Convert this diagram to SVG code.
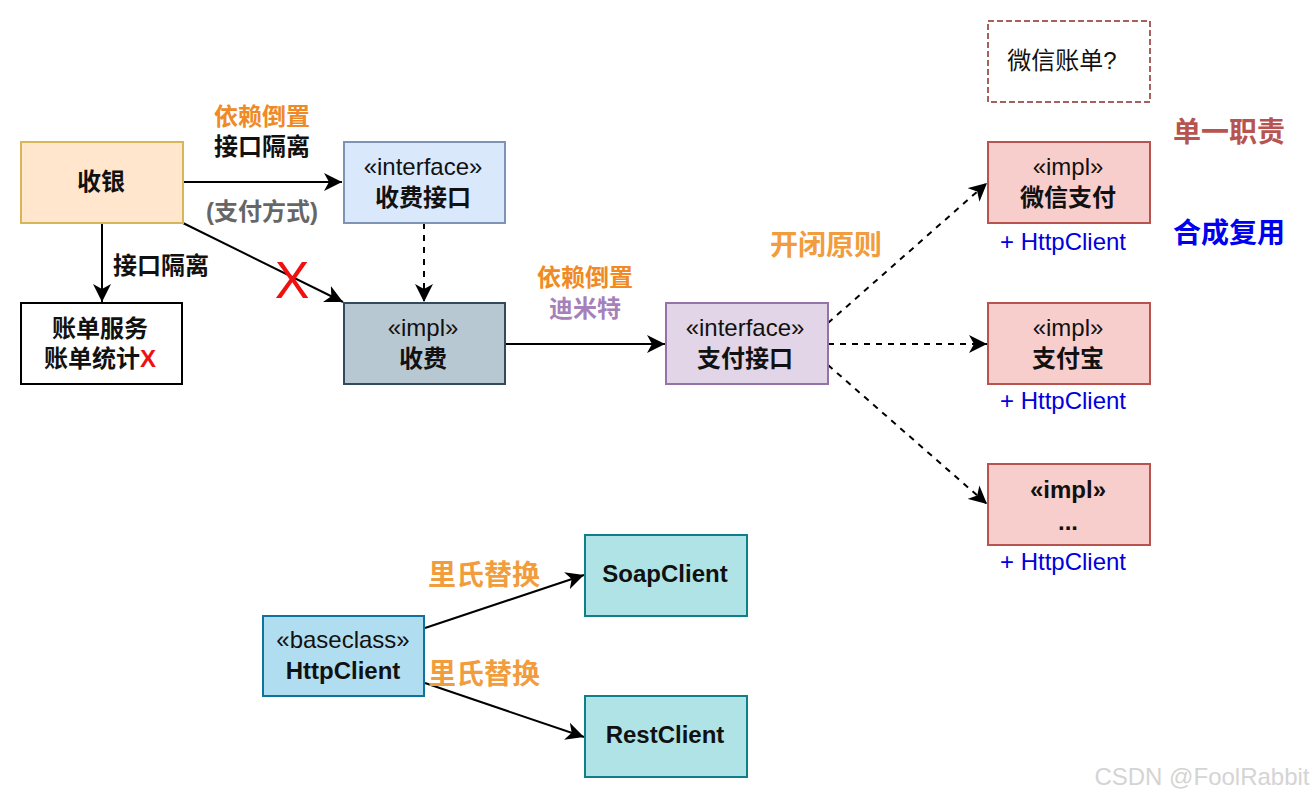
<svg xmlns="http://www.w3.org/2000/svg" width="1312" height="798" viewBox="0 0 1312 798">
<style>
text{font-family:"Liberation Sans","Noto Sans CJK SC",sans-serif;text-anchor:middle;fill:#111}
.b{font-weight:bold}
.n{font-size:24px}
.s{font-size:24px}
.box{stroke-width:2}
.c{fill:none;stroke:#000;stroke-width:2}
.d{stroke-dasharray:6 6}
.o{fill:#f08a24;font-weight:bold;font-size:24px}
.l{fill:#f19c3d;font-weight:bold;font-size:28px}
.h{fill:#0000dd;font-size:24px}
</style>
<defs><marker id="a" markerUnits="userSpaceOnUse" markerWidth="20" markerHeight="18" refX="18" refY="9" orient="auto"><path d="M0 0L18 9L0 18L5 9Z" fill="#000"/></marker></defs>
<rect width="1312" height="798" fill="#fff"/>
<g id="connectors">
<path class="c" d="M183 182H342" marker-end="url(#a)"/>
<path class="c" d="M102 223V302" marker-end="url(#a)"/>
<path class="c" d="M183 223L343 302" marker-end="url(#a)"/>
<path class="c d" d="M424 223V302" marker-end="url(#a)"/>
<path class="c" d="M505 344H665" marker-end="url(#a)"/>
<path class="c d" d="M828 323L987 183" marker-end="url(#a)"/>
<path class="c d" d="M828 344H987" marker-end="url(#a)"/>
<path class="c d" d="M828 365L987 504" marker-end="url(#a)"/>
<path class="c" d="M425 628L584 575" marker-end="url(#a)"/>
<path class="c" d="M425 683L584 737" marker-end="url(#a)"/>
</g>
<g id="n1"><rect class="box" x="21" y="142" width="162" height="81" fill="#ffe6cc" stroke="#d6b656"/><text class="b n" x="101" y="190">收银</text></g>
<g id="n2"><rect class="box" x="344" y="142" width="161" height="81" fill="#dae8fc" stroke="#7d94b5"/><text class="s" x="423" y="175">«interface»</text><text class="b n" x="423" y="206">收费接口</text></g>
<g id="n3"><rect class="box" x="21" y="303" width="161" height="81" fill="#fff" stroke="#000"/><text class="b n" x="100" y="337">账单服务</text><text class="b n" x="100" y="367">账单统计<tspan fill="#f01010">X</tspan></text></g>
<g id="n4"><rect class="box" x="344" y="303" width="161" height="81" fill="#b8c8d3" stroke="#33495e"/><text class="s" x="423" y="336">«impl»</text><text class="b n" x="423" y="367">收费</text></g>
<g id="n5"><rect class="box" x="666" y="303" width="162" height="81" fill="#e1d5e7" stroke="#9673a6"/><text class="s" x="745" y="336">«interface»</text><text class="b n" x="745" y="367">支付接口</text></g>
<g id="n6"><rect class="box" x="988" y="21" width="162" height="81" fill="#fff" stroke="#a8605c" stroke-dasharray="6 3"/><text class="s" x="1062" y="69">微信账单?</text></g>
<g id="n7"><rect class="box" x="988" y="142" width="162" height="81" fill="#f8cecc" stroke="#b85450"/><text class="s" x="1068" y="175">«impl»</text><text class="b n" x="1068" y="206">微信支付</text></g>
<g id="n8"><rect class="box" x="988" y="303" width="162" height="81" fill="#f8cecc" stroke="#b85450"/><text class="s" x="1068" y="336">«impl»</text><text class="b n" x="1068" y="367">支付宝</text></g>
<g id="n9"><rect class="box" x="988" y="464" width="162" height="81" fill="#f8cecc" stroke="#b85450"/><text class="b s" x="1068" y="498">«impl»</text><text class="b s" x="1068" y="530">...</text></g>
<g id="n10"><rect class="box" x="263" y="616" width="161" height="80" fill="#b1ddf0" stroke="#10739e"/><text class="s" x="343" y="648">«baseclass»</text><text class="b n" x="343" y="679">HttpClient</text></g>
<g id="n11"><rect class="box" x="585" y="535" width="162" height="81" fill="#b0e3e6" stroke="#0e8088"/><text class="b n" x="665" y="582">SoapClient</text></g>
<g id="n12"><rect class="box" x="585" y="696" width="162" height="81" fill="#b0e3e6" stroke="#0e8088"/><text class="b n" x="665" y="743">RestClient</text></g>
<g id="labels">
<text class="o" x="262" y="125">依赖倒置</text>
<text class="b n" x="262" y="155">接口隔离</text>
<text class="b n" x="262" y="220" style="fill:#666">(支付方式)</text>
<text class="b n" x="161" y="274">接口隔离</text>
<text x="292" y="298" style="fill:#f01010;font-size:52px">X</text>
<text class="o" x="585" y="286">依赖倒置</text>
<text class="o" x="585" y="317" style="fill:#a680b8">迪米特</text>
<text class="l" x="826" y="255">开闭原则</text>
<text class="l" x="1229" y="142" style="fill:#b85450">单一职责</text>
<text class="l" x="1229" y="243" style="fill:#0000ee">合成复用</text>
<text class="h" x="1063" y="250">+ HttpClient</text>
<text class="h" x="1063" y="409">+ HttpClient</text>
<text class="h" x="1063" y="570">+ HttpClient</text>
<text class="l" x="484" y="585">里氏替换</text>
<text class="l" x="484" y="684">里氏替换</text>
<text x="1202" y="785" style="fill:#d4d4d4;font-size:24px">CSDN @FoolRabbit</text>
</g>
</svg>
